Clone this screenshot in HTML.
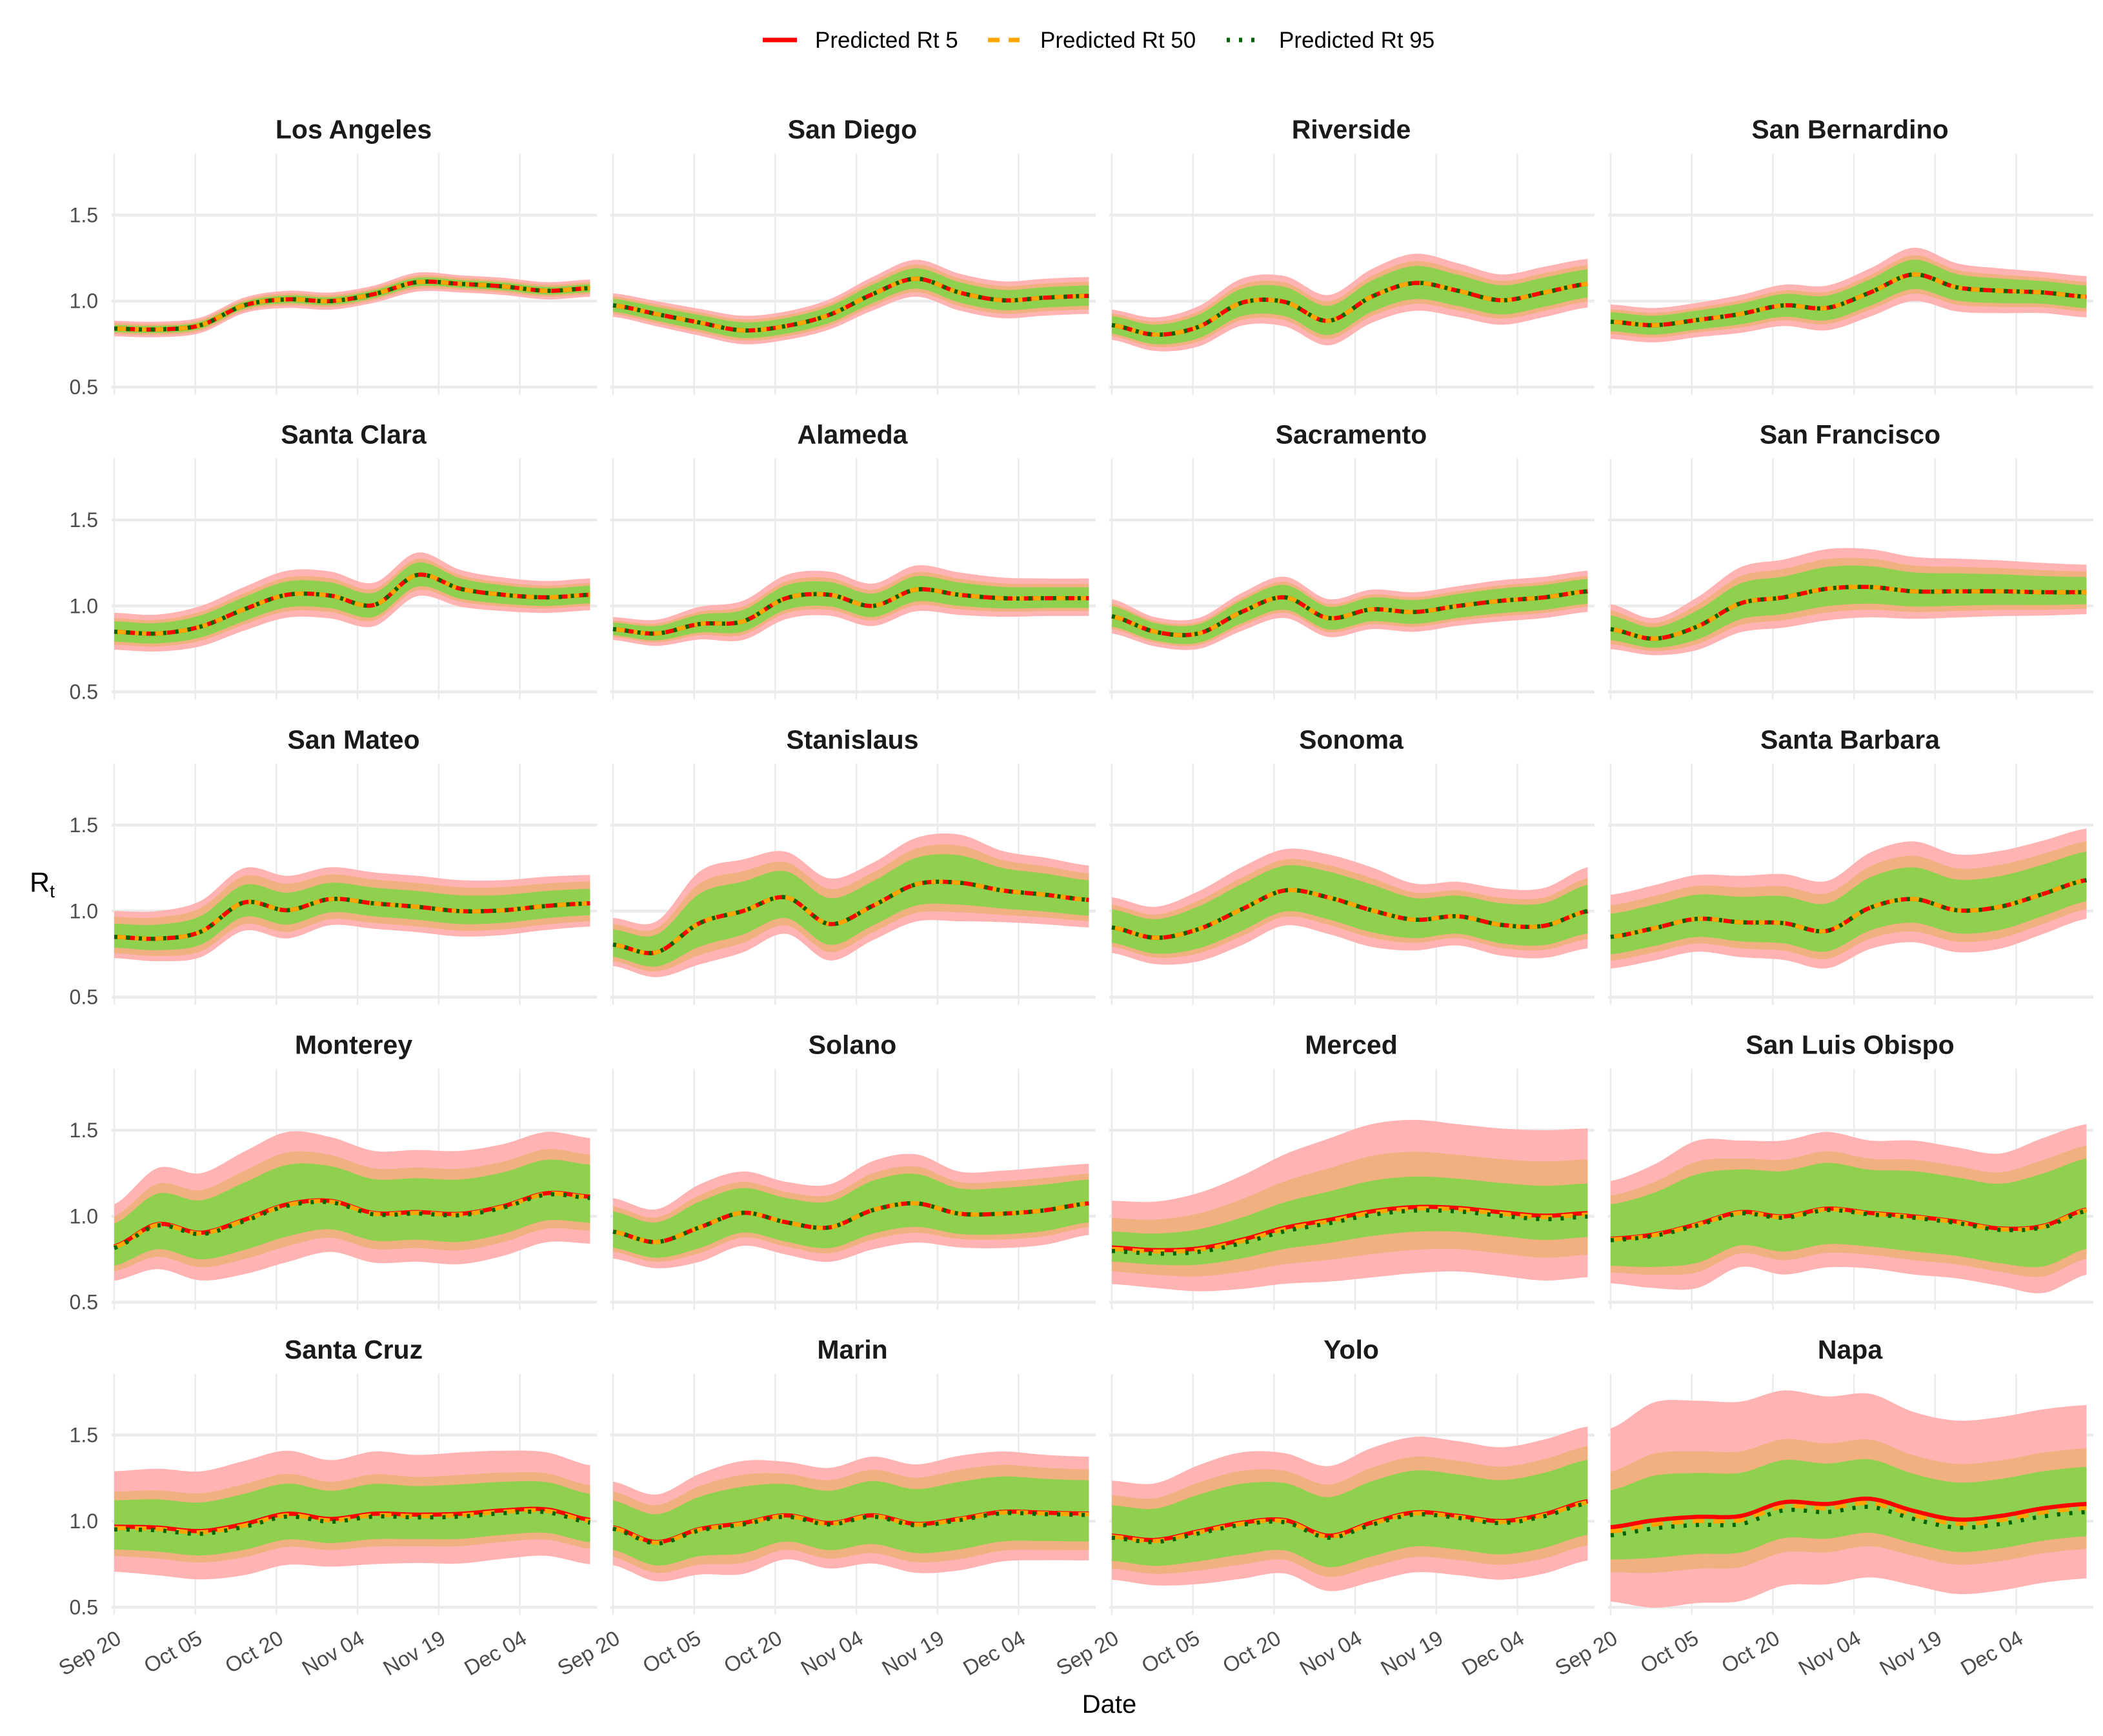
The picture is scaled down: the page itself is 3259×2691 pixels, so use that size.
<!DOCTYPE html>
<html><head><meta charset="utf-8"><title>Predicted Rt by county</title>
<style>
html,body{margin:0;padding:0;background:#fff;}
svg{display:block;font-family:"Liberation Sans",Arial,sans-serif;}
</style></head>
<body>
<svg id="chart" xmlns="http://www.w3.org/2000/svg" width="3259" height="2691" viewBox="0 0 3259 2691">
<rect x="0" y="0" width="3259" height="2691" fill="#ffffff"/>
<g id="legend">
  <g>
    <line x1="1182" y1="62" x2="1235" y2="62" stroke="#ff0000" stroke-width="7"/>
    <text x="1263" y="74" font-size="35" fill="#000">Predicted Rt 5</text>
  </g>
  <g>
    <line x1="1531" y1="62" x2="1580" y2="62" stroke="#ffa500" stroke-width="7" stroke-dasharray="18 14"/>
    <text x="1612" y="74" font-size="35" fill="#000">Predicted Rt 50</text>
  </g>
  <g>
    <line x1="1901" y1="62" x2="1954" y2="62" stroke="#006400" stroke-width="7" stroke-dasharray="5 14"/>
    <text x="1982" y="74" font-size="35" fill="#000">Predicted Rt 95</text>
  </g>
</g>
<g id="panels"></g>
<text x="1719" y="2655" font-size="40" text-anchor="middle" fill="#000">Date</text>
<text x="46" y="1382" font-size="43" fill="#000">R<tspan font-size="28" dy="9">t</tspan></text>
</svg>
<script>
const counties = ["Los Angeles","San Diego","Riverside","San Bernardino","Santa Clara","Alameda","Sacramento","San Francisco","San Mateo","Stanislaus","Sonoma","Santa Barbara","Monterey","Solano","Merced","San Luis Obispo","Santa Cruz","Marin","Yolo","Napa"];
const sampleDays = [0,8,16,24,32,40,48,56,64,72,80,88];
const tickDays = [0,15,30,45,60,75];
const tickLabels = ["Sep 20","Oct 05","Oct 20","Nov 04","Nov 19","Dec 04"];
const yTicks = [0.5,1.0,1.5];
const yTickLabels = ["0.5","1.0","1.5"];
const rt50 = [
 [0.84,0.835,0.86,0.975,1.01,1.0,1.04,1.11,1.10,1.085,1.06,1.075],
 [0.975,0.925,0.875,0.83,0.855,0.92,1.04,1.13,1.05,1.005,1.02,1.03],
 [0.86,0.805,0.85,0.99,0.995,0.885,1.025,1.105,1.06,1.005,1.05,1.10],
 [0.88,0.86,0.89,0.925,0.975,0.96,1.05,1.155,1.08,1.06,1.05,1.025],
 [0.85,0.84,0.88,0.98,1.065,1.06,1.005,1.18,1.10,1.065,1.05,1.065],
 [0.865,0.84,0.895,0.91,1.045,1.065,1.0,1.095,1.065,1.045,1.045,1.045],
 [0.94,0.85,0.84,0.965,1.05,0.93,0.98,0.965,1.0,1.03,1.05,1.085],
 [0.865,0.81,0.88,1.015,1.05,1.1,1.11,1.085,1.085,1.085,1.08,1.08],
 [0.85,0.84,0.88,1.05,1.005,1.07,1.045,1.025,1.0,1.005,1.03,1.045],
 [0.805,0.76,0.93,1.0,1.08,0.925,1.03,1.155,1.165,1.12,1.095,1.065],
 [0.905,0.845,0.895,1.01,1.12,1.08,1.005,0.95,0.97,0.92,0.915,1.0],
 [0.85,0.9,0.955,0.935,0.93,0.885,1.02,1.07,1.005,1.025,1.1,1.18],
 [0.82,0.95,0.9,0.975,1.065,1.085,1.015,1.02,1.01,1.055,1.13,1.11],
 [0.91,0.85,0.935,1.02,0.965,0.935,1.035,1.075,1.015,1.015,1.035,1.075],
 [0.81,0.795,0.805,0.855,0.925,0.97,1.02,1.045,1.04,1.015,0.995,1.01],
 [0.865,0.89,0.95,1.02,0.995,1.04,1.015,0.995,0.965,0.925,0.94,1.035],
 [0.96,0.955,0.935,0.975,1.035,1.005,1.035,1.03,1.035,1.055,1.06,1.0],
 [0.96,0.875,0.95,0.985,1.03,0.985,1.03,0.98,1.01,1.05,1.045,1.04],
 [0.91,0.885,0.935,0.985,1.0,0.91,0.985,1.045,1.025,0.995,1.035,1.11],
 [0.94,0.98,1.0,1.005,1.085,1.075,1.105,1.035,0.985,1.005,1.05,1.075]
];
const pinkHalfWidth = [
 [0.045,0.045,0.045,0.045,0.05,0.05,0.05,0.055,0.05,0.05,0.05,0.05],
 [0.07,0.075,0.08,0.085,0.085,0.09,0.1,0.11,0.11,0.11,0.11,0.11],
 [0.09,0.1,0.12,0.14,0.15,0.15,0.16,0.17,0.16,0.15,0.15,0.145],
 [0.1,0.1,0.1,0.11,0.12,0.13,0.14,0.155,0.14,0.13,0.12,0.12],
 [0.11,0.11,0.12,0.13,0.14,0.14,0.13,0.13,0.11,0.1,0.095,0.095],
 [0.07,0.08,0.1,0.12,0.135,0.135,0.13,0.14,0.13,0.12,0.115,0.115],
 [0.1,0.085,0.09,0.11,0.12,0.11,0.115,0.115,0.115,0.12,0.12,0.12],
 [0.145,0.12,0.17,0.21,0.22,0.23,0.22,0.2,0.19,0.18,0.17,0.16],
 [0.15,0.16,0.18,0.2,0.2,0.185,0.18,0.18,0.18,0.175,0.17,0.165],
 [0.155,0.18,0.3,0.3,0.265,0.265,0.25,0.27,0.28,0.23,0.215,0.2],
 [0.175,0.18,0.22,0.245,0.24,0.25,0.25,0.21,0.2,0.21,0.22,0.255],
 [0.245,0.25,0.255,0.27,0.285,0.29,0.32,0.335,0.325,0.325,0.31,0.3],
 [0.25,0.33,0.35,0.4,0.425,0.375,0.365,0.365,0.37,0.365,0.36,0.345],
 [0.195,0.19,0.25,0.24,0.235,0.25,0.285,0.285,0.245,0.25,0.25,0.23],
 [0.28,0.29,0.33,0.38,0.435,0.48,0.515,0.515,0.495,0.495,0.505,0.5],
 [0.34,0.41,0.49,0.42,0.445,0.45,0.425,0.445,0.435,0.44,0.515,0.5],
 [0.33,0.35,0.355,0.375,0.375,0.35,0.37,0.355,0.365,0.355,0.34,0.325],
 [0.27,0.28,0.325,0.365,0.315,0.325,0.345,0.35,0.37,0.355,0.34,0.335],
 [0.325,0.335,0.39,0.415,0.395,0.41,0.44,0.445,0.44,0.435,0.44,0.44],
 [0.6,0.71,0.7,0.69,0.675,0.65,0.635,0.6,0.6,0.6,0.6,0.6]
];
const orangeRatio = [0.7,0.75,0.75,0.72,0.72,0.72,0.75,0.75,0.77,0.77,0.75,0.75,0.72,0.75,0.64,0.75,0.64,0.78,0.74,0.58];
const greenRatio = [0.45,0.55,0.58,0.55,0.55,0.55,0.6,0.55,0.51,0.57,0.6,0.55,0.55,0.6,0.36,0.6,0.49,0.59,0.56,0.4];
const lowerFactor = [1.0,0.95,0.95,1.0,0.95,0.9,1.0,0.8,0.82,0.8,0.85,0.75,0.78,0.8,0.73,0.75,0.77,0.8,0.77,0.68];
const rt5Offset = [0,0,0,0,0,0,0,0,0,0,0,0,0.004,0,0.008,0.004,0.008,0.004,0.006,0.025];
const rt95Offset = [0,0,0,0,0,0,0,0,0,0,0,0,-0.004,0,-0.012,-0.004,-0.008,-0.004,-0.006,-0.022];

const NS = "http://www.w3.org/2000/svg";
const colLeft = [177,950,1723,2496];
const rowOne = [466.7,939.3,1412.3,1885.3,2358];
const pxPerDay = 8.38, pxPerUnit = 266.7;
function xScale(c,d){return colLeft[c]+d*pxPerDay;}
function yScale(r,v){return rowOne[r]-(v-1)*pxPerUnit;}
function interp(arr,d){
  const n=arr.length, step=sampleDays[1]-sampleDays[0];
  let i=Math.min(Math.floor(d/step),n-2); const t=(d-sampleDays[i])/step;
  const p0=arr[Math.max(i-1,0)],p1=arr[i],p2=arr[i+1],p3=arr[Math.min(i+2,n-1)];
  const t2=t*t,t3=t2*t;
  return 0.5*((2*p1)+(-p0+p2)*t+(2*p0-5*p1+4*p2-p3)*t2+(-p0+3*p1-3*p2+p3)*t3);
}
function mk(tag,attrs,parent){const e=document.createElementNS(NS,tag);for(const k in attrs)e.setAttribute(k,attrs[k]);parent.appendChild(e);return e;}
const root=document.getElementById("panels");
const lastDay=sampleDays[sampleDays.length-1];
const dense=[];for(let d=0;d<=lastDay+1e-9;d+=0.5)dense.push(d);

counties.forEach((name,k)=>{
  const c=k%4,r=Math.floor(k/4);
  const g=mk("g",{},root);
  
  
  tickDays.forEach(d=>{
    const l=mk("line",{x1:xScale(c,d),x2:xScale(c,d),y1:yScale(r,1.857),y2:yScale(r,0.456),stroke:"#ebebeb","stroke-width":2.5},g);
    
    
  });
  yTicks.forEach(v=>{
    const l=mk("line",{x1:colLeft[c]-4,x2:colLeft[c]+748,y1:yScale(r,v),y2:yScale(r,v),stroke:"#ebebeb","stroke-width":4.5},g);
    
    
  });
  const tt=mk("text",{x:colLeft[c]+371,y:yScale(r,1)-252,"font-size":41,"font-weight":"bold","text-anchor":"middle",fill:"#1a1a1a"},g);
  tt.textContent=name;
  
  
  const bands=[["#ffb3b3",1,'band-outer'],["#f0b080",orangeRatio[k],'band-middle'],["#8fd14f",greenRatio[k],'band-inner']];
  bands.forEach(([col,ratio,bn])=>{
    const up=[],lo=[];
    dense.forEach(d=>{
      const m=interp(rt50[k],d),h=interp(pinkHalfWidth[k],d)*ratio;
      up.push(xScale(c,d).toFixed(1)+","+yScale(r,m+h).toFixed(1));
      lo.push(xScale(c,d).toFixed(1)+","+yScale(r,m-h*lowerFactor[k]).toFixed(1));
    });
    const p=mk("polygon",{points:up.concat(lo.reverse()).join(" "),fill:col},g);
    
    
  });
  const lines=[[rt5Offset[k],"#ff0000","none",'line-rt5'],[0,"#ffa500","18 14",'line-rt50'],[rt95Offset[k],"#006400","5 14",'line-rt95']];
  lines.forEach(([off,col,dash,ln])=>{
    const pts=dense.map(d=>xScale(c,d).toFixed(1)+","+yScale(r,interp(rt50[k],d)+off).toFixed(1));
    const pl=mk("polyline",{points:pts.join(" "),fill:"none",stroke:col,"stroke-width":6.5,"stroke-dasharray":dash},g);
    
    
  });
  if(c===0){
    yTicks.forEach((v,i)=>{
      const t=mk("text",{x:152,y:yScale(r,v)+11,"font-size":32,"text-anchor":"end",fill:"#4d4d4d"},g);
      t.textContent=yTickLabels[i];
      
      
    });
  }
  if(r===4){
    tickDays.forEach((d,i)=>{
      const x=xScale(c,d)+13,y=2546;
      const t=mk("text",{x:x,y:y,"font-size":33,"text-anchor":"end",fill:"#4d4d4d",transform:"rotate(-30 "+x+" "+y+")"},g);
      t.textContent=tickLabels[i];
      
      
    });
  }
});
</script>
</body></html>
